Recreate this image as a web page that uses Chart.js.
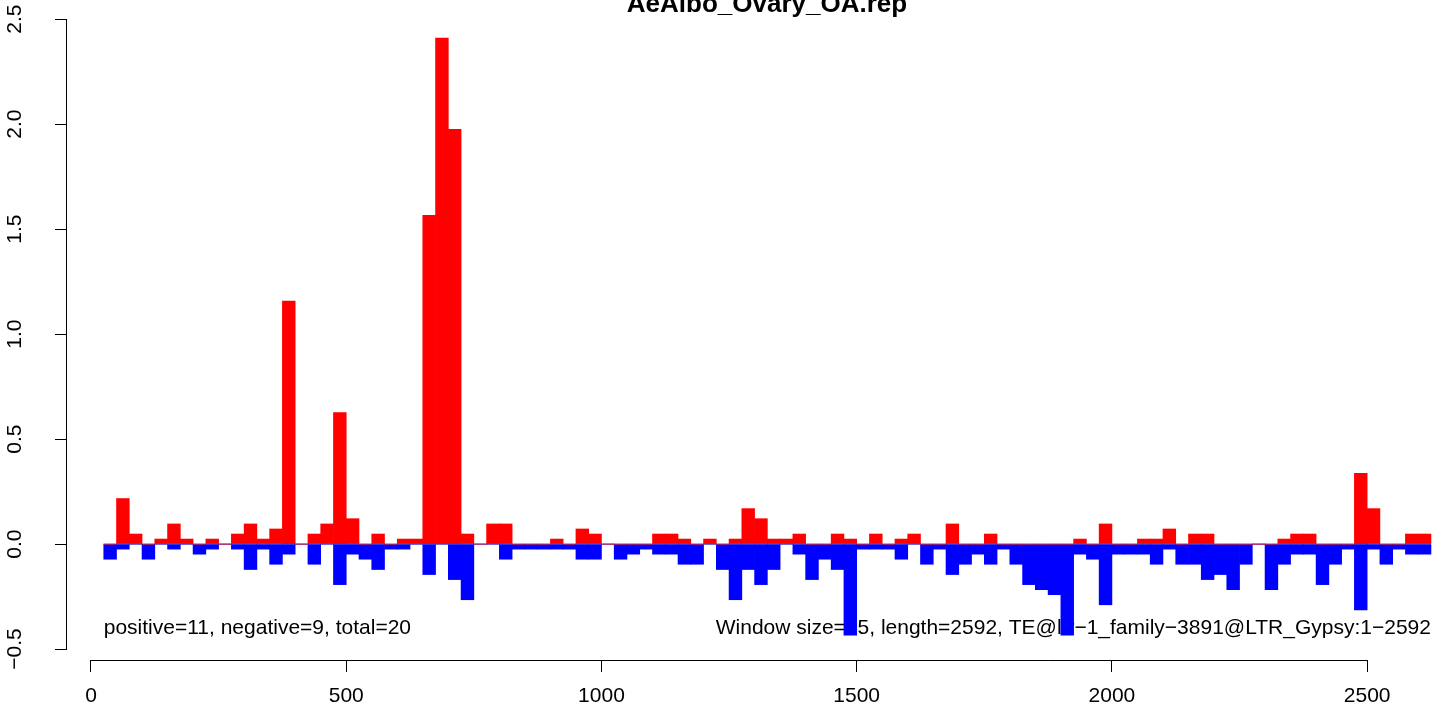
<!DOCTYPE html>
<html>
<head>
<meta charset="utf-8">
<script src="https://cdn.jsdelivr.net/npm/chart.js@4.4.0/dist/chart.umd.min.js"></script>
<style>
  html, body { margin: 0; padding: 0; background: #fff; }
</style>
</head>
<body>
<canvas id="chart" width="1433" height="708"></canvas>
<script>
const title = 'AeAlbo_Ovary_OA.rep'
const windowSize = 25
const windowStart = [
  25, 50, 75, 100, 125, 150, 175, 200, 225, 250, 275, 300, 325,
  350, 375, 400, 425, 450, 475, 500, 525, 550, 575, 600, 625, 650,
  675, 700, 725, 750, 775, 800, 825, 850, 875, 900, 925, 950, 975,
  1000, 1025, 1050, 1075, 1100, 1125, 1150, 1175, 1200, 1225, 1250, 1275, 1300,
  1325, 1350, 1375, 1400, 1425, 1450, 1475, 1500, 1525, 1550, 1575, 1600, 1625,
  1650, 1675, 1700, 1725, 1750, 1775, 1800, 1825, 1850, 1875, 1900, 1925, 1950,
  1975, 2000, 2025, 2050, 2075, 2100, 2125, 2150, 2175, 2200, 2225, 2250, 2275,
  2300, 2325, 2350, 2375, 2400, 2425, 2450, 2475, 2500, 2525, 2550, 2575, 2600
]
// sense strand (red, above zero)
const positive = [
  0, 0.217, 0.048, 0, 0.024, 0.096, 0.024, 0, 0.024, 0,
  0.048, 0.096, 0.024, 0.072, 1.157, 0, 0.048, 0.096, 0.627, 0.121,
  0, 0.048, 0, 0.024, 0.024, 1.566, 2.41, 1.976, 0.048, 0,
  0.096, 0.096, 0, 0, 0, 0.024, 0, 0.072, 0.048, 0,
  0, 0, 0, 0.048, 0.048, 0.024, 0, 0.024, 0, 0.024,
  0.169, 0.121, 0.024, 0.024, 0.048, 0, 0, 0.048, 0.024, 0,
  0.048, 0, 0.024, 0.048, 0, 0, 0.096, 0, 0, 0.048,
  0, 0, 0, 0, 0, 0, 0.024, 0, 0.096, 0,
  0, 0.024, 0.024, 0.072, 0, 0.048, 0.048, 0, 0, 0,
  0, 0, 0.024, 0.048, 0.048, 0, 0, 0, 0.337, 0.169,
  0, 0, 0.048, 0.048
]
// antisense strand (blue, below zero)
const negative = [
  -0.072, -0.024, 0, -0.072, 0, -0.024, 0, -0.048, -0.024, 0,
  -0.024, -0.121, -0.024, -0.096, -0.048, 0, -0.096, 0, -0.193, -0.048,
  -0.072, -0.121, -0.024, -0.024, 0, -0.145, 0, -0.169, -0.265, 0,
  0, -0.072, -0.024, -0.024, -0.024, -0.024, -0.024, -0.072, -0.072, 0,
  -0.072, -0.048, -0.024, -0.048, -0.048, -0.096, -0.096, 0, -0.121, -0.265,
  -0.121, -0.193, -0.121, 0, -0.048, -0.169, -0.072, -0.121, -0.434, -0.024,
  -0.024, -0.024, -0.072, 0, -0.096, -0.024, -0.145, -0.096, -0.048, -0.096,
  -0.024, -0.096, -0.193, -0.217, -0.241, -0.434, -0.048, -0.072, -0.289, -0.048,
  -0.048, -0.048, -0.096, -0.024, -0.096, -0.096, -0.169, -0.145, -0.217, -0.096,
  0, -0.217, -0.096, -0.048, -0.048, -0.193, -0.096, -0.024, -0.313, -0.024,
  -0.096, -0.024, -0.048, -0.048
]
const xTicks = [0, 500, 1000, 1500, 2000, 2500]
const yTicks = [-0.5, 0, 0.5, 1, 1.5, 2, 2.5]
const noteLeft = 'positive=11, negative=9, total=20'
const noteRight = 'Window size=25, length=2592, TE@ltr\u22121_family\u22123891@LTR_Gypsy:1\u22122592'

const FONT = '"Liberation Sans", Arial, sans-serif'
Chart.defaults.font.family = FONT

const centre = (i) => windowStart[i] + windowSize / 2
const posData = positive.map((v, i) => ({ x: centre(i), y: v }))
const negData = negative.map((v, i) => ({ x: centre(i), y: v }))
const lastEnd = windowStart[windowStart.length - 1] + windowSize
const zeroLine = [{ x: windowStart[0], y: 0 }, { x: lastEnd, y: 0 }]

const rFmt = (v) => v.toFixed(1).replace('-', '\u2212')

// R style axes: line only between first and last tick, rotated y labels, clipped title
const rStyle = {
  id: 'rStyle',
  beforeDatasetsDraw (chart) {
    const { ctx, scales: { x, y } } = chart
    ctx.save()
    ctx.fillStyle = '#000'
    ctx.font = '21px ' + FONT
    ctx.textBaseline = 'middle'
    ctx.textAlign = 'left'
    ctx.fillText(noteLeft, x.getPixelForValue(windowStart[0]), y.getPixelForValue(-0.4))
    ctx.textAlign = 'right'
    ctx.fillText(noteRight, x.getPixelForValue(lastEnd), y.getPixelForValue(-0.4))
    ctx.restore()
  },
  afterDraw (chart) {
    const { ctx, chartArea, scales: { x, y } } = chart
    ctx.save()
    ctx.strokeStyle = '#000'
    ctx.lineWidth = 1
    ctx.beginPath()
    const by = Math.round(chartArea.bottom) + 0.5
    ctx.moveTo(x.getPixelForValue(xTicks[0]), by)
    ctx.lineTo(x.getPixelForValue(xTicks[xTicks.length - 1]), by)
    const lx = Math.round(chartArea.left) - 0.5
    ctx.moveTo(lx, y.getPixelForValue(yTicks[0]))
    ctx.lineTo(lx, y.getPixelForValue(yTicks[yTicks.length - 1]))
    ctx.stroke()

    ctx.fillStyle = '#000'
    ctx.font = '21px ' + FONT
    ctx.textAlign = 'center'
    ctx.textBaseline = 'middle'
    yTicks.forEach((v) => {
      ctx.save()
      ctx.translate(15, y.getPixelForValue(v))
      ctx.rotate(-Math.PI / 2)
      ctx.fillText(rFmt(v), 0, 0)
      ctx.restore()
    })

    ctx.font = 'bold 26px ' + FONT
    ctx.textBaseline = 'alphabetic'
    ctx.fillText(title, 767, 12)
    ctx.restore()
  }
}

new Chart(document.getElementById('chart'), {
  type: 'bar',
  data: {
    datasets: [
      {
        label: 'positive',
        data: posData,
        backgroundColor: '#ff0000',
        borderWidth: 0,
        grouped: false,
        barPercentage: 1,
        categoryPercentage: 1,
        order: 1
      },
      {
        label: 'negative',
        data: negData,
        backgroundColor: '#0000ff',
        borderWidth: 0,
        grouped: false,
        barPercentage: 1,
        categoryPercentage: 1,
        order: 2
      },
      {
        type: 'line',
        label: 'zero',
        data: zeroLine,
        borderColor: '#8c8c8c',
        borderWidth: 1,
        pointRadius: 0,
        order: 10
      }
    ]
  },
  options: {
    responsive: false,
    animation: false,
    layout: { padding: { top: 15, right: 0, left: 0, bottom: 0 } },
    plugins: { legend: { display: false }, tooltip: { enabled: false } },
    scales: {
      x: {
        type: 'linear',
        offset: false,
        min: -47,
        max: 2629,
        afterBuildTicks: (s) => { s.ticks = xTicks.map((v) => ({ value: v })) },
        afterFit: (s) => { s.height = 48 },
        border: { display: false },
        grid: { offset: false, drawOnChartArea: false, drawTicks: true, tickLength: 12, color: '#000', lineWidth: 1 },
        ticks: {
          color: '#000',
          font: { size: 21 },
          padding: 12,
          maxRotation: 0,
          autoSkip: false,
          callback: (v) => String(v)
        }
      },
      y: {
        type: 'linear',
        min: -0.552,
        max: 2.52,
        afterBuildTicks: (s) => { s.ticks = yTicks.map((v) => ({ value: v })) },
        afterFit: (s) => { s.width = 67 },
        border: { display: false },
        grid: { drawOnChartArea: false, drawTicks: true, tickLength: 12, color: '#000', lineWidth: 1 },
        ticks: { display: false }
      }
    }
  },
  plugins: [rStyle]
})
</script>
</body>
</html>
